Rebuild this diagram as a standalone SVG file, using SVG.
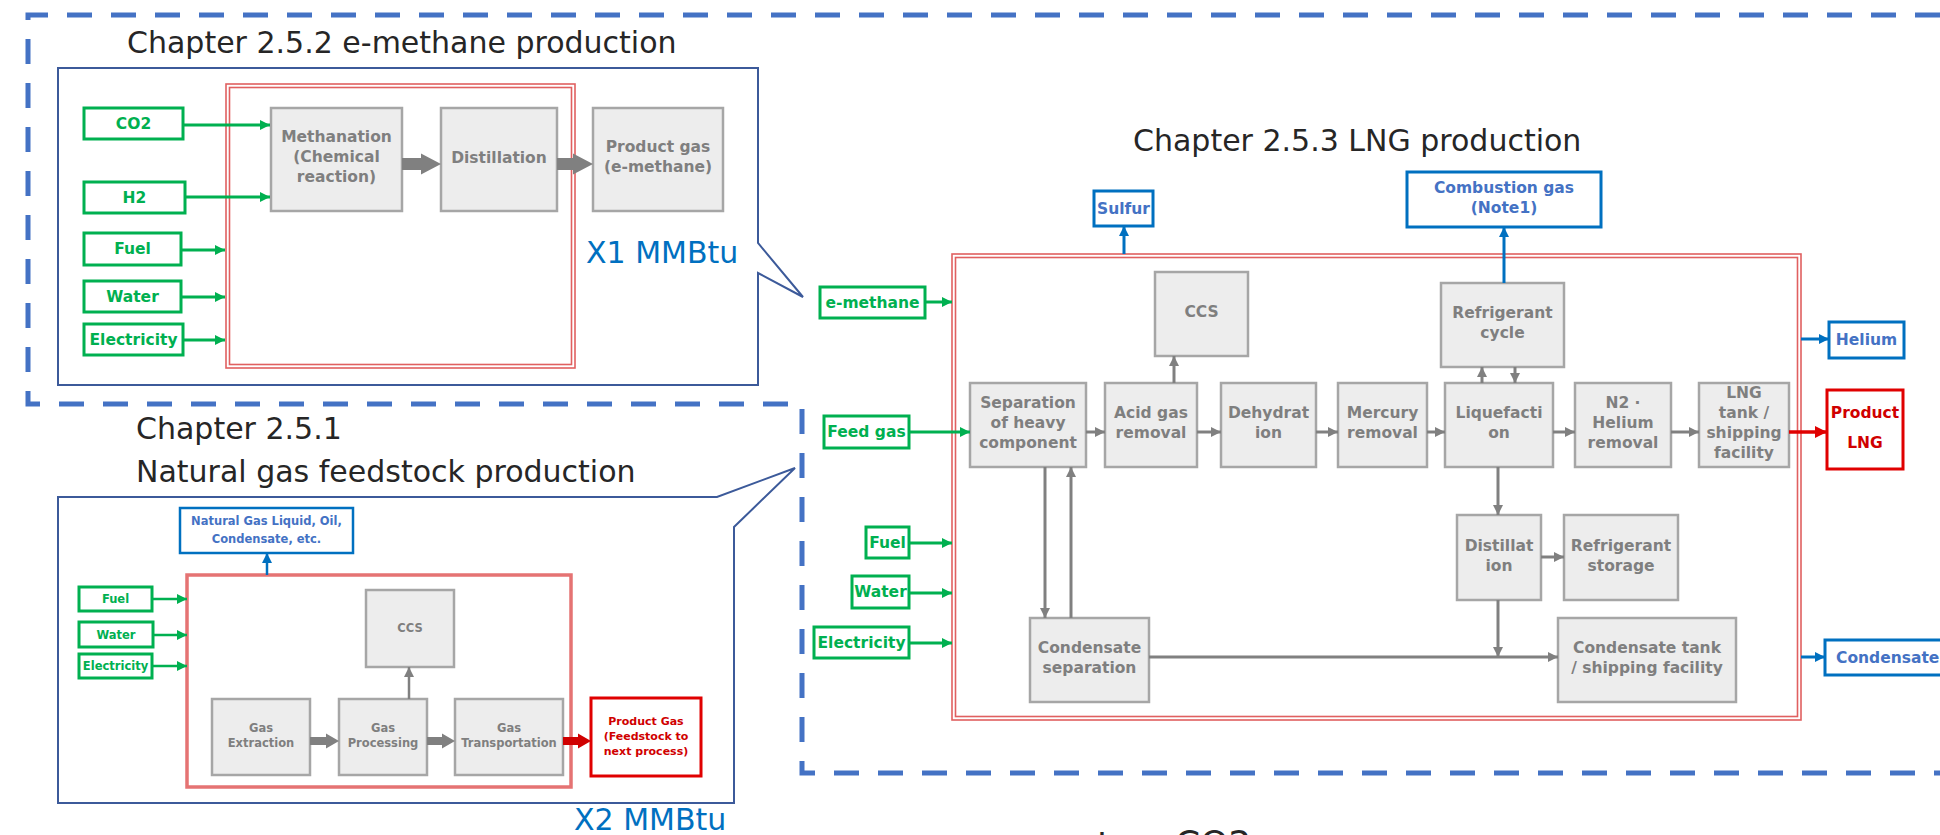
<svg xmlns="http://www.w3.org/2000/svg" width="1940" height="835" viewBox="0 0 1940 835">
<style>
text{font-family:"DejaVu Sans","Liberation Sans",sans-serif}
.title{font-size:30px;fill:#262626}
.mm{font-size:30px;fill:#0070C0}
.gbox{fill:#fff;stroke:#00B050;stroke-width:3}
.gt{fill:#00B050;font-weight:bold;font-size:15.5px;text-anchor:middle;dominant-baseline:central}
.gts{fill:#00B050;font-weight:bold;font-size:11.5px;text-anchor:middle;dominant-baseline:central}
.pbox{fill:#EDEDED;stroke:#A6A6A6;stroke-width:2.5}
.pt{fill:#7F7F7F;font-weight:bold;font-size:15.5px;text-anchor:middle;dominant-baseline:central}
.pts{fill:#7F7F7F;font-weight:bold;font-size:11.5px;text-anchor:middle;dominant-baseline:central}
.bbox{fill:#fff;stroke:#0070C0;stroke-width:3}
.bt{fill:#4472C4;font-weight:bold;font-size:15.5px;text-anchor:middle;dominant-baseline:central}
.bts{fill:#4472C4;font-weight:bold;font-size:11.5px;text-anchor:middle;dominant-baseline:central}
.rbox{fill:#fff;stroke:#E00000;stroke-width:3}
.rt{fill:#D00000;font-weight:bold;font-size:15.5px;text-anchor:middle;dominant-baseline:central}
.rts{fill:#D00000;font-weight:bold;font-size:11px;text-anchor:middle;dominant-baseline:central}
.dbl{fill:none;stroke:#E06060;stroke-width:1.6}
.call{fill:#fff;stroke:#3C5A9A;stroke-width:2}
.ga{fill:none;stroke:#00B050;stroke-width:3;marker-end:url(#mg)}
.gya{fill:none;stroke:#808080;stroke-width:3;marker-end:url(#my)}
.ba{fill:none;stroke:#0070C0;stroke-width:3;marker-end:url(#mb)}
.ra{fill:none;stroke:#E00000;stroke-width:3.5;marker-end:url(#mr)}
.blk{fill:#808080}
.blkr{fill:#D00000}
.dash{fill:none;stroke:#4472C4;stroke-width:5;stroke-dasharray:25 19}
</style>
<defs>
<marker id="mg" viewBox="0 0 10 10" refX="10" refY="5" markerWidth="11" markerHeight="10" orient="auto" markerUnits="userSpaceOnUse"><path d="M0,0 L10,5 L0,10 z" fill="#00B050"/></marker>
<marker id="my" viewBox="0 0 10 10" refX="10" refY="5" markerWidth="10" markerHeight="10" orient="auto" markerUnits="userSpaceOnUse"><path d="M0,0 L10,5 L0,10 z" fill="#808080"/></marker>
<marker id="mb" viewBox="0 0 10 10" refX="10" refY="5" markerWidth="10" markerHeight="10" orient="auto" markerUnits="userSpaceOnUse"><path d="M0,0 L10,5 L0,10 z" fill="#0070C0"/></marker>
<marker id="mr" viewBox="0 0 10 10" refX="10" refY="5" markerWidth="12" markerHeight="12" orient="auto" markerUnits="userSpaceOnUse"><path d="M0,0 L10,5 L0,10 z" fill="#E00000"/></marker>
</defs>

<path class="dash" d="M1940,15 H28 V404 H802 V773 H1940"/>

<!-- Chapter 2.5.2 -->
<g id="sec-emethane">
<text class="title" x="127" y="53">Chapter 2.5.2 e-methane production</text>
<path class="call" d="M58,68 H758 V243 L803,297 L758,273 V385 H58 Z"/>
<rect class="dbl" x="226" y="84" width="349" height="284"/>
<rect class="dbl" x="229.5" y="87.5" width="342" height="277"/>
<text class="mm" x="586" y="263">X1 MMBtu</text>
</g>
<g id="n-co2"><rect class="gbox" x="84" y="108" width="99" height="31"/><text class="gt" x="133.5" y="123.5">CO2</text></g>
<g id="n-h2"><rect class="gbox" x="84" y="182" width="101" height="31"/><text class="gt" x="134.5" y="197.5">H2</text></g>
<g id="n-fuel1"><rect class="gbox" x="84" y="233" width="97" height="32"/><text class="gt" x="132.5" y="249">Fuel</text></g>
<g id="n-water1"><rect class="gbox" x="84" y="281" width="97" height="31"/><text class="gt" x="132.5" y="296.5">Water</text></g>
<g id="n-elec1"><rect class="gbox" x="84" y="324" width="99" height="31"/><text class="gt" x="133.5" y="339.5">Electricity</text></g>
<g id="n-methanation"><rect class="pbox" x="271" y="108" width="131" height="103"/><text class="pt" x="336.5" y="137">Methanation</text><text class="pt" x="336.5" y="157">(Chemical</text><text class="pt" x="336.5" y="177">reaction)</text></g>
<g id="n-distill1"><rect class="pbox" x="441" y="108" width="116" height="103"/><text class="pt" x="499" y="158">Distillation</text></g>
<g id="n-product1"><rect class="pbox" x="593" y="108" width="130" height="103"/><text class="pt" x="658" y="147">Product gas</text><text class="pt" x="658" y="167">(e-methane)</text></g>

<!-- Chapter 2.5.1 -->
<g id="sec-ng">
<text class="title" x="136" y="439">Chapter 2.5.1</text>
<text class="title" x="136" y="482">Natural gas feedstock production</text>
<path class="call" d="M58,497 H717 L795,468 L734,527 V803 H58 Z"/>
<rect x="187" y="575" width="384" height="212" fill="none" stroke="#E57373" stroke-width="3.5"/>
<text class="mm" x="574" y="830">X2 MMBtu</text>
</g>
<g id="n-ngl"><rect x="180" y="508" width="173" height="45" fill="#fff" stroke="#0070C0" stroke-width="2.5"/><text class="bts" x="266.5" y="521">Natural Gas Liquid, Oil,</text><text class="bts" x="266.5" y="539">Condensate, etc.</text></g>
<g id="n-fuel2"><rect class="gbox" x="79" y="587" width="73" height="24" stroke-width="2.5"/><text class="gts" x="115.5" y="599">Fuel</text></g>
<g id="n-water2"><rect class="gbox" x="79" y="622" width="74" height="25" stroke-width="2.5"/><text class="gts" x="116" y="634.5">Water</text></g>
<g id="n-elec2"><rect class="gbox" x="79" y="654" width="73" height="24" stroke-width="2.5"/><text class="gts" x="115.5" y="666">Electricity</text></g>
<g id="n-ccs1"><rect class="pbox" x="366" y="590" width="88" height="77" stroke-width="2"/><text class="pts" x="410" y="628">CCS</text></g>
<g id="n-extract"><rect class="pbox" x="212" y="699" width="98" height="76" stroke-width="2"/><text class="pts" x="261" y="728">Gas</text><text class="pts" x="261" y="743">Extraction</text></g>
<g id="n-process"><rect class="pbox" x="339" y="699" width="88" height="76" stroke-width="2"/><text class="pts" x="383" y="728">Gas</text><text class="pts" x="383" y="743">Processing</text></g>
<g id="n-transport"><rect class="pbox" x="455" y="699" width="108" height="76" stroke-width="2"/><text class="pts" x="509" y="728">Gas</text><text class="pts" x="509" y="743">Transportation</text></g>
<g id="n-productgas"><rect class="rbox" x="591" y="698" width="110" height="78" stroke-width="2.5"/><text class="rts" x="646" y="721">Product Gas</text><text class="rts" x="646" y="736">(Feedstock to</text><text class="rts" x="646" y="751">next process)</text></g>

<!-- Chapter 2.5.3 -->
<g id="sec-lng">
<text class="title" x="1133" y="151">Chapter 2.5.3 LNG production</text>
<rect class="dbl" x="952" y="254" width="849" height="466"/>
<rect class="dbl" x="955.5" y="257.5" width="842" height="459"/>
</g>
<g id="n-sulfur"><rect class="bbox" x="1094" y="191" width="59" height="35"/><text class="bt" x="1123.5" y="208.5">Sulfur</text></g>
<g id="n-combustion"><rect class="bbox" x="1407" y="172" width="194" height="55"/><text class="bt" x="1504" y="188">Combustion gas</text><text class="bt" x="1504" y="208">(Note1)</text></g>
<g id="n-emethane"><rect class="gbox" x="820" y="287" width="105" height="31"/><text class="gt" x="872.5" y="302.5">e-methane</text></g>
<g id="n-feedgas"><rect class="gbox" x="824" y="416" width="85" height="32"/><text class="gt" x="866.5" y="432">Feed gas</text></g>
<g id="n-fuel3"><rect class="gbox" x="866" y="527" width="43" height="31"/><text class="gt" x="887.5" y="542.5">Fuel</text></g>
<g id="n-water3"><rect class="gbox" x="852" y="576" width="57" height="32"/><text class="gt" x="880.5" y="592">Water</text></g>
<g id="n-elec3"><rect class="gbox" x="814" y="627" width="95" height="31"/><text class="gt" x="861.5" y="642.5">Electricity</text></g>
<g id="n-ccs2"><rect class="pbox" x="1155" y="272" width="93" height="84"/><text class="pt" x="1201.5" y="312">CCS</text></g>
<g id="n-separation"><rect class="pbox" x="970" y="383" width="116" height="84"/><text class="pt" x="1028" y="403">Separation</text><text class="pt" x="1028" y="423">of heavy</text><text class="pt" x="1028" y="443">component</text></g>
<g id="n-acid"><rect class="pbox" x="1105" y="383" width="92" height="84"/><text class="pt" x="1151" y="413">Acid gas</text><text class="pt" x="1151" y="433">removal</text></g>
<g id="n-dehyd"><rect class="pbox" x="1221" y="383" width="95" height="84"/><text class="pt" x="1268.5" y="413">Dehydrat</text><text class="pt" x="1268.5" y="433">ion</text></g>
<g id="n-mercury"><rect class="pbox" x="1338" y="383" width="89" height="84"/><text class="pt" x="1382.5" y="413">Mercury</text><text class="pt" x="1382.5" y="433">removal</text></g>
<g id="n-liq"><rect class="pbox" x="1445" y="383" width="108" height="84"/><text class="pt" x="1499" y="413">Liquefacti</text><text class="pt" x="1499" y="433">on</text></g>
<g id="n-n2"><rect class="pbox" x="1575" y="383" width="96" height="84"/><text class="pt" x="1623" y="403">N2 ·</text><text class="pt" x="1623" y="423">Helium</text><text class="pt" x="1623" y="443">removal</text></g>
<g id="n-lngtank"><rect class="pbox" x="1699" y="383" width="90" height="84"/><text class="pt" x="1744" y="393">LNG</text><text class="pt" x="1744" y="413">tank /</text><text class="pt" x="1744" y="433">shipping</text><text class="pt" x="1744" y="453">facility</text></g>
<g id="n-productlng"><rect class="rbox" x="1827" y="390" width="76" height="79"/><text class="rt" x="1865" y="413">Product</text><text class="rt" x="1865" y="443">LNG</text></g>
<g id="n-helium"><rect class="bbox" x="1829" y="322" width="75" height="36"/><text class="bt" x="1866.5" y="340">Helium</text></g>
<g id="n-refcycle"><rect class="pbox" x="1441" y="283" width="123" height="84"/><text class="pt" x="1502.5" y="313">Refrigerant</text><text class="pt" x="1502.5" y="333">cycle</text></g>
<g id="n-distill2"><rect class="pbox" x="1457" y="515" width="84" height="85"/><text class="pt" x="1499" y="546">Distillat</text><text class="pt" x="1499" y="566">ion</text></g>
<g id="n-refstorage"><rect class="pbox" x="1564" y="515" width="114" height="85"/><text class="pt" x="1621" y="546">Refrigerant</text><text class="pt" x="1621" y="566">storage</text></g>
<g id="n-condsep"><rect class="pbox" x="1030" y="618" width="119" height="84"/><text class="pt" x="1089.5" y="648">Condensate</text><text class="pt" x="1089.5" y="668">separation</text></g>
<g id="n-condtank"><rect class="pbox" x="1558" y="618" width="178" height="84"/><text class="pt" x="1647" y="648">Condensate tank</text><text class="pt" x="1647" y="668">/ shipping facility</text></g>
<g id="n-condensate"><rect class="bbox" x="1825" y="640" width="130" height="35"/><text class="bt" x="1836" y="657.5" style="text-anchor:start">Condensate</text></g>

<g id="connectors">
<path class="ga" d="M183,125 H270"/>
<path class="ga" d="M185,197 H270"/>
<path class="ga" d="M181,250 H225"/>
<path class="ga" d="M181,297 H225"/>
<path class="ga" d="M183,340 H225"/>
<polygon class="blk" points="402,158 421,158 421,153.5 441,164 421,174.5 421,170 402,170"/>
<polygon class="blk" points="557,158 573,158 573,153.5 593,164 573,174.5 573,170 557,170"/>
<path class="ga" d="M152,599 H187" style="stroke-width:2.5"/>
<path class="ga" d="M153,635 H187" style="stroke-width:2.5"/>
<path class="ga" d="M152,666 H187" style="stroke-width:2.5"/>
<path class="ba" d="M267,575 V553" style="stroke-width:2.5"/>
<path class="gya" d="M409,699 V667" style="stroke-width:2.5"/>
<polygon class="blk" points="310,737 326,737 326,733.5 339,741 326,748.5 326,745 310,745"/>
<polygon class="blk" points="427,737 442,737 442,733.5 455,741 442,748.5 442,745 427,745"/>
<polygon class="blkr" points="563,737 578,737 578,733.5 591,741 578,748.5 578,745 563,745"/>
<path class="ba" d="M1124,254 V226"/>
<path class="ba" d="M1504,283 V227"/>
<path class="ba" d="M1801,339 H1829"/>
<path class="ba" d="M1801,657 H1825"/>
<path class="ga" d="M925,302 H952"/>
<path class="ga" d="M909,432 H970"/>
<path class="ga" d="M909,543 H952"/>
<path class="ga" d="M909,593 H952"/>
<path class="ga" d="M909,643 H952"/>
<path class="gya" d="M1086,432 H1105"/>
<path class="gya" d="M1197,432 H1221"/>
<path class="gya" d="M1316,432 H1338"/>
<path class="gya" d="M1427,432 H1445"/>
<path class="gya" d="M1553,432 H1575"/>
<path class="gya" d="M1671,432 H1699"/>
<path class="ra" d="M1789,432 H1827"/>
<path class="gya" d="M1174,383 V356"/>
<path class="gya" d="M1482,383 V367"/>
<path class="gya" d="M1515,367 V383"/>
<path class="gya" d="M1045,467 V618"/>
<path class="gya" d="M1071,618 V467"/>
<path class="gya" d="M1498,467 V515"/>
<path class="gya" d="M1541,557 H1564"/>
<path class="gya" d="M1498,600 V657"/>
<path class="gya" d="M1149,657 H1558"/>
</g>

<g id="cut-text">
<text x="1097" y="857" font-size="36" fill="#262626">t</text>
<text x="1175" y="856" font-size="36" fill="#262626">CO2</text>
</g>
</svg>
